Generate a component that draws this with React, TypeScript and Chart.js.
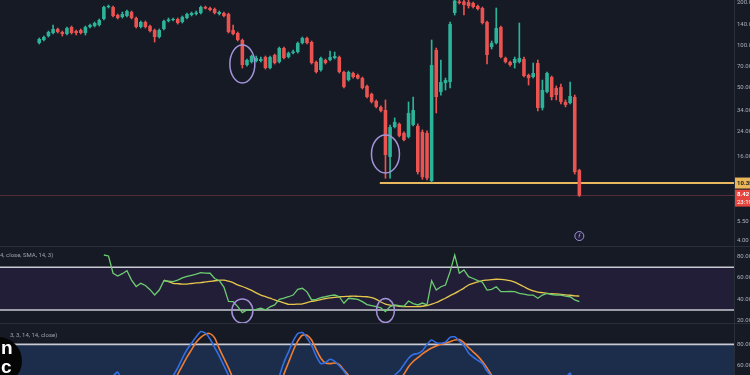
import React, { useEffect, useRef } from "react";
import { Chart, registerables } from "chart.js";

Chart.register(...registerables);

// ---------- data ----------
const SLOTS = 159; // category slots on the time axis
const LEAD = 8; // empty slots before the first candle
const LABELS = Array.from({ length: SLOTS }, (_, i) => `Bar ${i + 1}`);

const OPEN = [
  103.5, 108.8, 116.2, 122.1, 130.4, 124.1, 120.1, 134.7, 126.1, 128.2,
  122.1, 134.7, 136.9, 139.2, 153.7, 187.2, 187.2, 164.1, 158.8, 161.5,
  172.4, 156.2, 134.7, 146.3, 136.9, 128.2, 114.3, 130.4, 148.7, 151.2,
  153.7, 146.3, 156.2, 164.1, 166.9, 169.6, 187.2, 184.2, 181.2, 166.9,
  169.6, 166.9, 128.2, 122.1, 108.8, 72.1, 75.8, 77.0, 77.0, 82.2,
  68.6, 85.0, 75.8, 95.4, 82.2, 87.8, 89.3, 103.5, 112.4, 105.3,
  75.8, 66.4, 78.3, 78.3, 80.9, 82.2, 64.3, 56.3, 63.2, 61.2,
  58.2, 51.1, 44.8, 39.9, 36.2, 34.4, 15.9, 26.0, 27.4, 23.6,
  22.1, 26.9, 26.5, 24.0, 23.6, 10.7, 92.3, 46.3, 53.6, 54.5,
  169.6, 205, 205, 203, 200, 190.3, 184.2, 146.3, 96.9, 103.5,
  134.7, 80.9, 75.8, 74.5, 75.8, 79.6, 61.2, 59.2, 74.5, 35.6,
  46.3, 59.2, 49.4, 50.2, 39.3, 38.6, 42.6, 12.8,
];
const CLOSE = [
  110.6, 114.3, 124.1, 130.4, 124.1, 120.1, 132.5, 122.1, 122.1, 122.1,
  134.7, 139.2, 143.9, 151.2, 187.2, 190.3, 161.5, 156.2, 166.9, 175.3,
  156.2, 134.7, 146.3, 134.7, 126.1, 114.3, 128.2, 148.7, 152.5, 153.7,
  143.9, 158.8, 166.9, 169.6, 171.0, 187.2, 182.7, 178.2, 169.6, 172.4,
  161.5, 124.1, 120.1, 108.8, 72.1, 78.3, 83.6, 80.9, 79.6, 68.6,
  82.2, 74.5, 95.4, 80.9, 87.8, 90.0, 103.5, 112.4, 103.5, 74.5,
  64.3, 80.9, 74.5, 82.2, 83.6, 64.3, 50.2, 64.3, 59.2, 57.8,
  49.4, 42.6, 39.3, 36.2, 33.9, 16.4, 26.0, 28.3, 22.5, 21.0,
  32.8, 34.4, 12.4, 11.4, 11.2, 72.1, 42.6, 54.5, 56.3, 141.5,
  208, 200, 193.5, 190.3, 187.2, 181.2, 143.9, 85.0, 103.5, 132.5,
  82.2, 75.8, 72.1, 79.6, 80.9, 60.2, 58.2, 63.2, 35.6, 47.8,
  63.2, 42.6, 44.0, 39.3, 37.4, 43.3, 12.4, 8.42,
];
const HIGH = [
  112.4, 116.2, 126.1, 139.2, 132.5, 126.1, 134.7, 136.9, 128.2, 130.4,
  136.9, 141.5, 146.3, 153.7, 190.3, 193.5, 190.3, 166.9, 172.4, 178.2,
  175.3, 158.8, 148.7, 148.7, 139.2, 130.4, 130.4, 151.2, 156.2, 156.2,
  156.2, 161.5, 169.6, 172.4, 175.3, 190.3, 190.3, 187.2, 184.2, 175.3,
  172.4, 169.6, 139.2, 124.1, 110.6, 79.6, 85.0, 83.6, 82.2, 83.6,
  83.6, 86.4, 96.9, 96.9, 89.3, 92.3, 105.3, 114.3, 114.3, 107.0,
  77.0, 82.2, 79.6, 90.8, 89.3, 83.6, 65.3, 65.3, 64.3, 62.2,
  59.2, 51.9, 45.5, 40.6, 36.8, 40.6, 26.9, 30.2, 27.8, 24.0,
  39.3, 42.6, 27.4, 24.8, 24.4, 108.8, 95.4, 78.3, 58.2, 146.3,
  225, 215, 212, 210, 203, 193.5, 187.2, 148.7, 107.0, 184.2,
  136.9, 82.2, 77.0, 82.2, 143.9, 82.2, 62.2, 74.5, 78.3, 56.3,
  64.3, 60.2, 51.1, 52.8, 40.6, 54.5, 44.0, 13.0,
];
const LOW = [
  101.9, 107.0, 114.3, 120.1, 122.1, 116.2, 118.1, 120.1, 118.1, 120.1,
  118.1, 132.5, 134.7, 136.9, 151.2, 184.2, 158.8, 153.7, 156.2, 158.8,
  153.7, 132.5, 132.5, 132.5, 124.1, 105.3, 112.4, 128.2, 146.3, 148.7,
  141.5, 143.9, 153.7, 161.5, 164.1, 166.9, 181.2, 175.3, 166.9, 164.1,
  158.8, 122.1, 118.1, 107.0, 68.6, 70.9, 74.5, 75.8, 75.8, 67.5,
  67.5, 73.3, 74.5, 79.6, 80.9, 86.4, 87.8, 101.9, 101.9, 73.3,
  63.2, 65.3, 73.3, 77.0, 79.6, 63.2, 49.4, 55.4, 58.2, 57.3,
  48.6, 41.9, 38.6, 35.6, 33.3, 11.2, 11.2, 25.6, 22.1, 20.7,
  21.7, 26.5, 12.0, 11.0, 10.9, 10.5, 32.8, 44.0, 47.8, 49.4,
  164.1, 196.7, 164.1, 184.2, 184.2, 178.2, 141.5, 73.3, 93.8, 101.9,
  80.9, 74.5, 70.9, 68.6, 74.5, 59.2, 51.9, 58.2, 33.9, 34.4,
  45.5, 40.6, 40.6, 38.0, 36.2, 38.0, 12.0, 8.3,
];

const RSI_START = 14;
const RSI = [
  81.5, 80.6, 64.4, 61.8, 64, 66.8, 58, 52, 55, 53,
  49, 44, 48.7, 57.4, 57, 56.5, 58, 60, 61.5, 62.5,
  63.5, 65, 64.5, 64.4, 59.5, 57.5, 51.5, 38, 37.8, 33.1,
  27.5, 30, 30, 30.5, 31.6, 30, 33, 34.7, 40, 41,
  42.4, 44, 49.4, 50.3, 47, 39.4, 40, 41.5, 42.4, 43.5,
  44, 42.4, 36.3, 41, 40.5, 40, 37.8, 35, 34, 33.1,
  32, 28.4, 33.1, 34.7, 34, 33.5, 38.4, 36, 34.7, 36.5,
  34.7, 57.4, 48.7, 51.8, 53.4, 65.9, 81.5, 64.4, 67.5, 61.2,
  59.5, 57.5, 56, 48.7, 49.4, 51.8, 47.1, 47.1, 47.3, 47.1,
  45.6, 44.8, 44, 44, 41, 44, 45.6, 44.5, 44, 44,
  43, 42.4, 39.4, 37.8,
];
const SMA_START = 27;
const RSI_SMA = [
  58, 56.5, 55, 54.6, 54.3, 54.3, 54.8, 55.3, 55.6, 56.3,
  56.8, 57.4, 57.8, 58, 57, 55.6, 53.5, 52, 50.3, 48.3,
  46, 44, 42.5, 41, 39.4, 38, 36.7, 35.3, 35.2, 35.5,
  35.8, 37, 38, 38.8, 39.8, 40.6, 41.3, 41.8, 42.4, 42.6,
  42.8, 43, 42.8, 42.6, 42.4, 41.5, 40, 37.5, 35.5, 34.5,
  34, 33.5, 33.1, 33.1, 33.1, 33.1, 33.5, 34.2, 35.5, 37,
  39, 41, 43.5, 45.6, 48, 50.5, 53.4, 55, 56.3, 57.4,
  58, 58.5, 58.8, 58.6, 58.2, 57.4, 56, 54, 51.8, 49.5,
  47.8, 46.8, 46.2, 45.6, 45.2, 45, 44.7, 44.2, 43.8, 43.3,
  43,
];

const STOCH_START = 14;
const STOCH_K = [
  30, 42, 50, 54, 45, 35, 25, 15, 10, 12,
  8, 5, 12, 25, 38, 50, 58, 67, 75, 81,
  87, 92, 90.5, 85, 77, 69, 60, 51, 40, 28,
  15, 5, 2, 3, 8, 6, 10, 35, 50, 63,
  73, 83, 90, 91, 86, 79, 69, 62, 63, 66,
  64, 60, 55, 48, 35, 22, 12, 5, 2, 0,
  0, 8, 30, 51, 55, 61, 67, 70.5, 71.5, 74,
  80, 84, 81.5, 81, 82, 86.5, 87, 83, 79, 72,
  68, 65, 62, 55, 50, 40, 30, 20, 12, 8,
  10, 8, 5, 10, 8, 15, 25, 30, 35, 40,
  48, 53, 35, 15,
];
const STOCH_D = [
  25, 32, 41, 48, 50, 45, 35, 25, 17, 12,
  10, 8, 8, 14, 25, 38, 52, 60, 68, 75,
  82, 86.5, 89.5, 90, 86, 76, 67, 58, 48, 38,
  27, 16, 8, 4, 4, 6, 8, 15, 35, 52,
  63, 74, 83, 88.5, 88.5, 84, 75, 67, 62.5, 62,
  62.5, 61, 56, 51, 42, 31, 20, 13, 6, 2,
  1, 3, 15, 33, 46, 52, 59, 64, 67.5, 71,
  74, 76.5, 78.5, 80, 81, 82.5, 84, 84.5, 81.5, 77,
  73, 69, 64, 58, 51, 44, 36, 27, 20, 13,
  10, 9, 8, 8, 8, 11, 16, 23, 30, 35,
  41, 47, 45, 34,
];

const PRICE_TICKS = [200, 140, 100, 70, 50, 34, 24, 16, 10.5, 5.5, 4];
const OSC_TICKS = [80, 60, 40, 20];
const SUPPORT = 10.35;
const SUPPORT_FROM = 74;
const LAST_PRICE = 8.42;
const COUNTDOWN = "23:19";
const PRICE_RINGS = [
  { i: 44, v: 73.3, rx: 12.5, ry: 19 },
  { i: 75, v: 16.7, rx: 14, ry: 19 },
];
const RSI_RINGS = [
  { i: 44, v: 29, rx: 10.5, ry: 12 },
  { i: 75, v: 29.5, rx: 9, ry: 12 },
];
const EVENT_MARK = { i: 117, v: 4.33 };

// ---------- style ----------
const BG = "#161a25";
const UP = "#2cb39a";
const DOWN = "#ea5350";
const AXIS_TEXT = "#aab0bb";
const SEP = "#2a2e39";
const RING = "#a393d8";
const FONT = "Roboto, 'Liberation Sans', Arial, sans-serif";

const pad = (arr: any[], start: number) => {
  const out: any[] = new Array(SLOTS).fill(null);
  arr.forEach((v, k) => {
    out[LEAD + start + k] = v;
  });
  return out;
};

const fitAxis = (s: any) => {
  s.width = 16;
  s.paddingTop = 0;
  s.paddingBottom = 0;
};

const axisTicks = {
  color: AXIS_TEXT,
  font: { size: 6, family: FONT },
  padding: 3,
  autoSkip: false,
  callback: (v: any) => Number(v).toFixed(2),
};

const priceOverlay = {
  id: "priceOverlay",
  beforeDatasetsDraw(chart: any) {
    const { ctx, chartArea: ca, scales } = chart;
    const x = scales.x;
    const y = scales.y;
    ctx.save();
    const yl = Math.round(y.getPixelForValue(LAST_PRICE)) - 0.5;
    ctx.strokeStyle = "rgba(140,60,70,0.55)";
    ctx.lineWidth = 1;
    ctx.beginPath();
    ctx.moveTo(ca.left, yl);
    ctx.lineTo(ca.right, yl);
    ctx.stroke();
    const ys = y.getPixelForValue(SUPPORT);
    const xs = x.getPixelForValue(LEAD + SUPPORT_FROM) - 1;
    ctx.strokeStyle = "#e8b85e";
    ctx.lineWidth = 2;
    ctx.beginPath();
    ctx.moveTo(xs, ys);
    ctx.lineTo(ca.right, ys);
    ctx.stroke();
    ctx.restore();
  },
  afterDatasetsDraw(chart: any) {
    const { ctx, scales } = chart;
    const x = scales.x;
    const y = scales.y;
    ctx.save();
    ctx.strokeStyle = RING;
    ctx.lineWidth = 1.5;
    PRICE_RINGS.forEach((r) => {
      ctx.beginPath();
      ctx.ellipse(x.getPixelForValue(LEAD + r.i), y.getPixelForValue(r.v), r.rx, r.ry, 0, 0, Math.PI * 2);
      ctx.stroke();
    });
    const ex = x.getPixelForValue(LEAD + EVENT_MARK.i);
    const ey = y.getPixelForValue(EVENT_MARK.v);
    ctx.fillStyle = "#1d1b33";
    ctx.beginPath();
    ctx.arc(ex, ey, 4.5, 0, Math.PI * 2);
    ctx.fill();
    ctx.lineWidth = 1;
    ctx.stroke();
    ctx.fillStyle = "#b9acef";
    ctx.font = `italic 6px ${FONT}`;
    ctx.textAlign = "center";
    ctx.textBaseline = "middle";
    ctx.fillText("f", ex, ey + 0.5);
    ctx.restore();
  },
  afterDraw(chart: any) {
    const { ctx, scales } = chart;
    const y = scales.y;
    const x0 = 735;
    const w = 16;
    ctx.save();
    ctx.font = `bold 6px ${FONT}`;
    ctx.textAlign = "left";
    ctx.textBaseline = "middle";
    const ys = y.getPixelForValue(SUPPORT);
    ctx.fillStyle = "#e9b75a";
    ctx.fillRect(x0, ys - 5.5, w, 11);
    ctx.fillStyle = "#1b1b1b";
    ctx.fillText(SUPPORT.toFixed(2), x0 + 2, ys);
    const yp = y.getPixelForValue(LAST_PRICE);
    ctx.fillStyle = "#e4463f";
    ctx.fillRect(x0, yp - 6, w, 17);
    ctx.fillStyle = "#ffffff";
    ctx.fillText(LAST_PRICE.toFixed(2), x0 + 2, yp - 1);
    ctx.font = `6px ${FONT}`;
    ctx.fillText(COUNTDOWN, x0 + 2, yp + 6.5);
    ctx.restore();
  },
};

const bandPlugin = (lo: number, hi: number, fill: string, lines: number[], rings: any[]) => ({
  id: "band",
  beforeDatasetsDraw(chart: any) {
    const { ctx, chartArea: ca, scales } = chart;
    const y = scales.y;
    const yHi = y.getPixelForValue(hi);
    const yLo = y.getPixelForValue(lo);
    ctx.save();
    ctx.fillStyle = fill;
    ctx.fillRect(ca.left, yHi, ca.right - ca.left, yLo - yHi);
    ctx.strokeStyle = "#c9cad2";
    ctx.lineWidth = 1.6;
    lines.forEach((v) => {
      const p = y.getPixelForValue(v);
      ctx.beginPath();
      ctx.moveTo(ca.left, p);
      ctx.lineTo(ca.right, p);
      ctx.stroke();
    });
    ctx.restore();
  },
  afterDatasetsDraw(chart: any) {
    const { ctx, scales } = chart;
    ctx.save();
    ctx.strokeStyle = RING;
    ctx.lineWidth = 1.5;
    rings.forEach((r) => {
      ctx.beginPath();
      ctx.ellipse(scales.x.getPixelForValue(LEAD + r.i), scales.y.getPixelForValue(r.v), r.rx, r.ry, 0, 0, Math.PI * 2);
      ctx.stroke();
    });
    ctx.restore();
  },
});

const baseOptions = {
  responsive: false,
  animation: false as const,
  events: [],
  layout: { padding: 0 },
  plugins: { legend: { display: false }, tooltip: { enabled: false } },
};

export default function App() {
  const priceRef = useRef<HTMLCanvasElement>(null);
  const rsiRef = useRef<HTMLCanvasElement>(null);
  const stochRef = useRef<HTMLCanvasElement>(null);

  useEffect(() => {
    const colors = pad(OPEN.map((o, k) => (CLOSE[k] >= o ? UP : DOWN)), 0);
    const bodies = pad(OPEN.map((o, k) => [o, CLOSE[k]]), 0);
    const wicks = pad(LOW.map((l, k) => [l, HIGH[k]]), 0);

    const price = new Chart(priceRef.current!, {
      type: "bar",
      data: {
        labels: LABELS,
        datasets: [
          {
            label: "Body",
            data: bodies as any,
            backgroundColor: colors,
            borderWidth: 0,
            barPercentage: 0.78,
            categoryPercentage: 1,
            grouped: false,
            minBarLength: 1,
          },
          {
            label: "Wick",
            data: wicks as any,
            backgroundColor: colors,
            borderWidth: 0,
            barThickness: 1,
            grouped: false,
          },
        ],
      },
      options: {
        ...baseOptions,
        scales: {
          x: { display: false, offset: true, grid: { display: false } },
          y: {
            type: "logarithmic",
            position: "right",
            min: 3.675,
            max: 210.1,
            bounds: "data",
            grid: { display: false, drawTicks: false },
            border: { display: false },
            ticks: axisTicks,
            afterBuildTicks: (s: any) => {
              s.ticks = PRICE_TICKS.map((v) => ({ value: v }));
            },
            afterFit: fitAxis,
          },
        },
      } as any,
      plugins: [priceOverlay],
    });

    const rsi = new Chart(rsiRef.current!, {
      type: "line",
      data: {
        labels: LABELS,
        datasets: [
          {
            label: "RSI",
            data: pad(RSI, RSI_START),
            borderColor: "#6ccc70",
            borderWidth: 1.3,
            pointRadius: 0,
            tension: 0,
          },
          {
            label: "RSI SMA",
            data: pad(RSI_SMA, SMA_START),
            borderColor: "#e8c84c",
            borderWidth: 1.3,
            pointRadius: 0,
            tension: 0.3,
          },
        ],
      },
      options: {
        ...baseOptions,
        scales: {
          x: { display: false, offset: true, grid: { display: false } },
          y: {
            position: "right",
            min: 17.8,
            max: 89.0,
            bounds: "data",
            grid: { display: false, drawTicks: false },
            border: { display: false },
            ticks: axisTicks,
            afterBuildTicks: (s: any) => {
              s.ticks = OSC_TICKS.map((v) => ({ value: v }));
            },
            afterFit: fitAxis,
          },
        },
      } as any,
      plugins: [bandPlugin(30, 70, "#221e37", [70, 30], RSI_RINGS)],
    });

    const stoch = new Chart(stochRef.current!, {
      type: "line",
      data: {
        labels: LABELS,
        datasets: [
          {
            label: "%K",
            data: pad(STOCH_K, STOCH_START),
            borderColor: "#3470e4",
            borderWidth: 1.6,
            pointRadius: 0,
            tension: 0.2,
          },
          {
            label: "%D",
            data: pad(STOCH_D, STOCH_START),
            borderColor: "#ef7d35",
            borderWidth: 1.6,
            pointRadius: 0,
            tension: 0.2,
          },
        ],
      },
      options: {
        ...baseOptions,
        scales: {
          x: { display: false, offset: true, grid: { display: false } },
          y: {
            position: "right",
            min: -3.8,
            max: 99.0,
            bounds: "data",
            grid: { display: false, drawTicks: false },
            border: { display: false },
            ticks: axisTicks,
            afterBuildTicks: (s: any) => {
              s.ticks = OSC_TICKS.map((v) => ({ value: v }));
            },
            afterFit: fitAxis,
          },
        },
      } as any,
      plugins: [bandPlugin(20, 80, "#1b2d4b", [80, 20], [])],
    });

    return () => {
      price.destroy();
      rsi.destroy();
      stoch.destroy();
    };
  }, []);

  const abs = (s: any) => ({ position: "absolute" as const, ...s });

  return (
    <div
      style={{
        position: "fixed",
        left: 0,
        top: 0,
        width: 750,
        height: 375,
        background: BG,
        overflow: "hidden",
        fontFamily: FONT,
      }}
    >
      <canvas ref={priceRef} width={750} height={246} style={abs({ left: 0, top: 0 })} />
      <canvas ref={rsiRef} width={750} height={76} style={abs({ left: 0, top: 247 })} />
      <canvas ref={stochRef} width={750} height={110} style={abs({ left: 0, top: 324 })} />
      <div style={abs({ left: 0, top: 246, width: 750, height: 1, background: SEP })} />
      <div style={abs({ left: 0, top: 323, width: 750, height: 1, background: SEP })} />
      <div style={abs({ left: 734, top: 0, width: 1, height: 375, background: SEP })} />
      <div style={abs({ left: 0, top: 251, fontSize: 6, color: "#9ea1ab", whiteSpace: "nowrap" })}>
        4, close, SMA, 14, 3)
      </div>
      <div style={abs({ left: 10, top: 331, fontSize: 6, color: "#9ea1ab", whiteSpace: "nowrap" })}>
        3, 3, 14, 14, close)
      </div>
      <div
        style={abs({
          left: -26,
          top: 337,
          width: 48,
          height: 48,
          borderRadius: "50%",
          background: "#050505",
        })}
      />
      <div
        style={abs({
          left: 1,
          top: 338,
          fontSize: 19,
          fontWeight: 700,
          color: "#ffffff",
          lineHeight: "19px",
          fontFamily: "'Liberation Sans', Arial, sans-serif",
        })}
      >
        n
        <br />c
      </div>
    </div>
  );
}
